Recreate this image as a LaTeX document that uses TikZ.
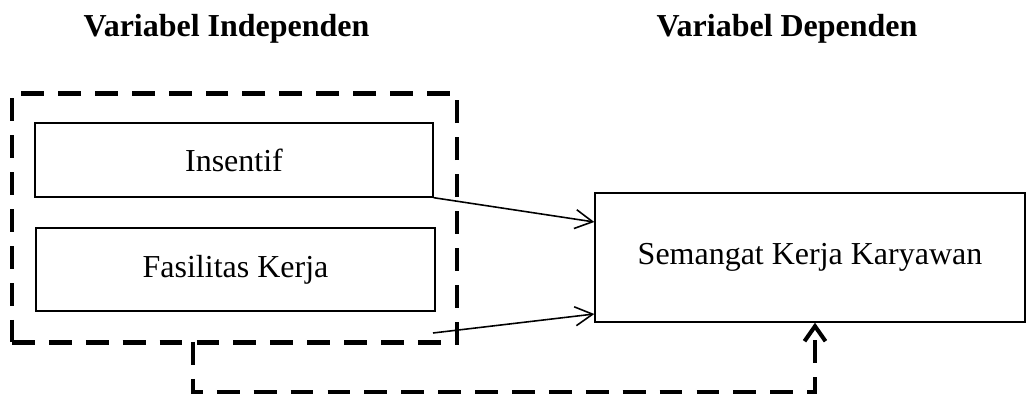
\documentclass[tikz,border=0pt]{standalone}
\usepackage{fontspec}
\setmainfont{Liberation Serif}
\usetikzlibrary{arrows.meta}

\begin{document}
\begin{tikzpicture}
% Define the node styles
\tikzstyle{var} = [draw, rectangle, line width=0.8pt, inner sep=0pt, font=\fontsize{18.2}{22}\selectfont]
\tikzstyle{group} = [draw, rectangle, line width=2.3pt, dash pattern=on 13pt off 8pt, inner sep=0pt]
\tikzstyle{heading} = [anchor=base, inner sep=0pt, font=\fontsize{18.2}{22}\selectfont\bfseries]
\tikzstyle{link} = [line width=0.9pt, -{Straight Barb[length=0.35cm, width=0.38cm]}]
\tikzstyle{feedback} = [line width=2.3pt, dash pattern=on 13pt off 8pt, -{Straight Barb[length=0.3cm, width=0.42cm]}]

\useasboundingbox (0,0) rectangle (20.54,-7.92);

% Define the nodes
\node[heading] (HI) at (4.53, -0.74) {Variabel Independen};
\node[heading] (HD) at (15.74, -0.74) {Variabel Dependen};

\node[group, minimum width=8.9cm, minimum height=4.98cm] (G) at (4.69, -4.36) {};
\node[var, minimum width=7.96cm, minimum height=1.48cm] (X1) at (4.68, -3.2) {Insentif};
\node[var, minimum width=7.98cm, minimum height=1.66cm] (X2) at (4.71, -5.39) {Fasilitas Kerja};
\node[var, minimum width=8.6cm, minimum height=2.58cm] (Y) at (16.2, -5.15) {Semangat Kerja Karyawan};

\coordinate (X2out) at (8.66, -6.66);
\coordinate (Gout) at (3.86, -6.84);

% Define the transitions
\draw[link] (X1.south east) -- ([yshift=0.71cm]Y.west);
\draw[link] (X2out) -- ([yshift=-1.13cm]Y.west);

\draw[feedback] (Gout) -- ++(0,-1) -| ([xshift=0.1cm]Y.south);

\end{tikzpicture}
\end{document}
